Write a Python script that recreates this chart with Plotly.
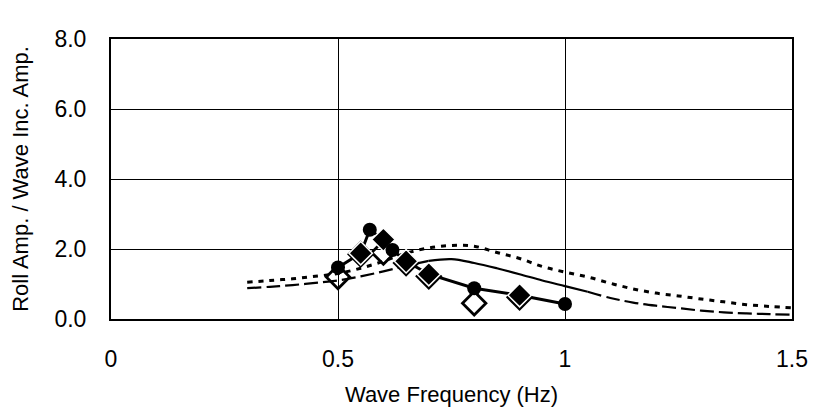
import plotly.graph_objects as go

# Theoretical response curves (frequency in Hz, roll amplitude ratio)
theory_freq = [0.30, 0.35, 0.40, 0.45, 0.50, 0.55, 0.60, 0.65, 0.70, 0.75, 0.80,
               0.85, 0.90, 0.95, 1.00, 1.05, 1.10, 1.15, 1.20, 1.25, 1.30, 1.35,
               1.40, 1.45, 1.50]
theory_a = [1.05, 1.10, 1.15, 1.22, 1.30, 1.45, 1.65, 1.88, 2.03, 2.10, 2.08,
            1.90, 1.73, 1.50, 1.34, 1.20, 1.02, 0.86, 0.74, 0.66, 0.57, 0.49,
            0.41, 0.36, 0.32]
theory_b = [0.88, 0.92, 0.97, 1.03, 1.10, 1.22, 1.36, 1.52, 1.66, 1.71, 1.60,
            1.45, 1.28, 1.10, 0.94, 0.78, 0.60, 0.47, 0.38, 0.31, 0.24, 0.19,
            0.16, 0.14, 0.12]

# Measured values
circle_freq = [0.50, 0.57, 0.62, 0.80, 1.00]
circle_amp = [1.47, 2.55, 1.97, 0.88, 0.43]

filled_dia_freq = [0.55, 0.60, 0.65, 0.70, 0.90]
filled_dia_amp = [1.88, 2.27, 1.65, 1.28, 0.68]

open_dia_freq = [0.50, 0.55, 0.60, 0.65, 0.70, 0.80, 0.90]
open_dia_amp = [1.20, 1.85, 1.90, 1.60, 1.22, 0.45, 0.62]

x_ticks = [0, 0.5, 1, 1.5]
x_tick_text = ["0", "0.5", "1", "1.5"]
y_ticks = [0, 2, 4, 6, 8]
y_tick_text = ["0.0", "2.0", "4.0", "6.0", "8.0"]

FONT = "Liberation Sans, Arial, sans-serif"

fig = go.Figure()

# Dotted theory curve
fig.add_trace(go.Scatter(x=theory_freq, y=theory_a, mode="lines",
                         line=dict(color="black", width=3, dash="5px,6px", shape="spline"),
                         showlegend=False, hoverinfo="skip"))

# Second theory curve: long dashes at the ends, solid through the middle
i0, i1 = 8, 15
fig.add_trace(go.Scatter(x=theory_freq[:i0 + 1], y=theory_b[:i0 + 1], mode="lines",
                         line=dict(color="black", width=2.2, dash="14px,5px", shape="spline"),
                         showlegend=False, hoverinfo="skip"))
fig.add_trace(go.Scatter(x=theory_freq[i0:i1 + 1], y=theory_b[i0:i1 + 1], mode="lines",
                         line=dict(color="black", width=2.2, shape="spline"),
                         showlegend=False, hoverinfo="skip"))
fig.add_trace(go.Scatter(x=theory_freq[i1:], y=theory_b[i1:], mode="lines",
                         line=dict(color="black", width=2.2, dash="14px,5px", shape="spline"),
                         showlegend=False, hoverinfo="skip"))

# Line joining the filled measurement points
pts = sorted(zip(circle_freq + filled_dia_freq, circle_amp + filled_dia_amp))
fig.add_trace(go.Scatter(x=[p[0] for p in pts], y=[p[1] for p in pts], mode="lines",
                         line=dict(color="black", width=3),
                         showlegend=False, hoverinfo="skip"))

fig.add_trace(go.Scatter(x=open_dia_freq, y=open_dia_amp, mode="markers",
                         marker=dict(symbol="diamond-open", size=18, color="black",
                                     line=dict(width=2.8, color="black")),
                         showlegend=False))
fig.add_trace(go.Scatter(x=filled_dia_freq, y=filled_dia_amp, mode="markers",
                         marker=dict(symbol="diamond", size=18, color="black",
                                     line=dict(width=1.5, color="white")),
                         showlegend=False))
fig.add_trace(go.Scatter(x=circle_freq, y=circle_amp, mode="markers",
                         marker=dict(symbol="circle", size=14, color="black"),
                         showlegend=False))

fig.update_layout(
    width=820, height=417,
    margin=dict(l=111, r=21, t=39, b=98),
    paper_bgcolor="white", plot_bgcolor="white",
    font=dict(family=FONT, size=23, color="black"),
    showlegend=False,
)
fig.update_xaxes(range=[0, 1.5], tickvals=x_ticks, ticktext=x_tick_text,
                 showgrid=True, gridcolor="black", gridwidth=1,
                 showline=True, linecolor="black", linewidth=2, mirror=True,
                 ticks="", ticklabelstandoff=18, zeroline=False,
                 title=dict(text="Wave Frequency (Hz)", font=dict(size=22), standoff=16))
fig.update_yaxes(range=[0, 8], tickvals=y_ticks, ticktext=y_tick_text,
                 showgrid=True, gridcolor="black", gridwidth=1,
                 showline=True, linecolor="black", linewidth=2, mirror=True,
                 ticks="", ticklabelstandoff=18, zeroline=False,
                 title=dict(text="Roll Amp. / Wave Inc. Amp.", font=dict(size=22), standoff=20))

fig.write_html("out.html")
